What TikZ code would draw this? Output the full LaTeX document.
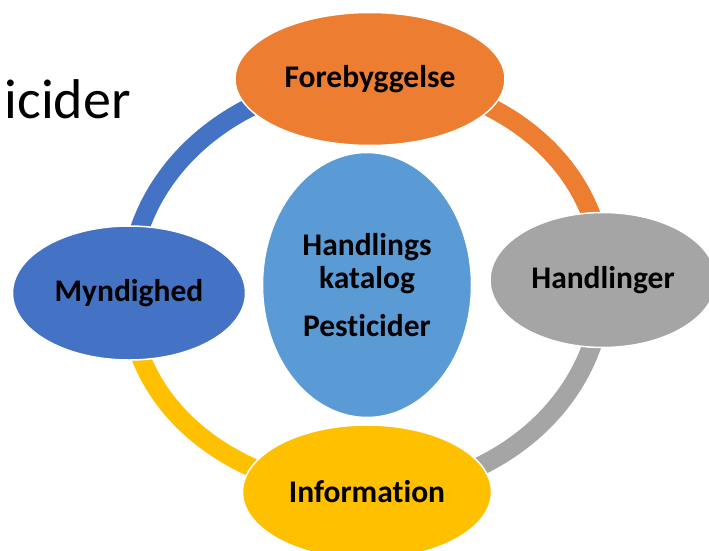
\documentclass[tikz,border=0pt]{standalone}
\usepackage{fontspec}
\setmainfont[Ligatures=NoCommon]{Carlito}
\usetikzlibrary{shapes.geometric}
\definecolor{cOrange}{HTML}{ED7D31}
\definecolor{cGray}{HTML}{A5A5A5}
\definecolor{cYellow}{HTML}{FFC000}
\definecolor{cBlue}{HTML}{4472C4}
\definecolor{cLight}{HTML}{5B9BD5}
\pgfdeclarelayer{background}
\pgfsetlayers{background,main}
\begin{document}
\begin{tikzpicture}[x=1pt,y=1pt,
  blob/.style={ellipse, draw=white, line width=1.5pt, inner sep=0pt,
    font=\fontsize{31.5}{34}\selectfont\bfseries, text=black},
  ring/.style={line width=19pt, line cap=butt}]
\useasboundingbox (0,0) rectangle (709,-551);
\clip (0,0) rectangle (709,-551);
\node[anchor=base east, inner sep=0pt, font=\fontsize{56}{60}\selectfont] (title) at (131,-118) {icider};
\node[blob, fill=cOrange, minimum width=270pt, minimum height=133pt] (fore) at (370,-79) {Forebyggelse};
\node[blob, fill=cGray, minimum width=226pt, minimum height=135pt] (hand) at (603,-280) {Handlinger};
\node[blob, fill=cYellow, minimum width=249pt, minimum height=134pt] (info) at (367,-492) {Information};
\node[blob, fill=cBlue, minimum width=233pt, minimum height=134pt] (myn) at (129,-293) {Myndighed};
\node[blob, fill=cLight, minimum width=209pt, minimum height=265pt, align=center] (cat) at (367,-285) {Handlings\\[-1pt]katalog\\[14pt]Pesticider};
\begin{pgfonlayer}{background}
\draw[ring, cBlue] (myn.center) to[out=90, in=180] (fore.center);
\draw[ring, cOrange] (fore.center) to[out=0, in=90] (hand.center);
\draw[ring, cGray] (hand.center) to[out=-90, in=0] (info.center);
\draw[ring, cYellow] (info.center) to[out=180, in=-90] (myn.center);
\end{pgfonlayer}
\end{tikzpicture}
\end{document}
